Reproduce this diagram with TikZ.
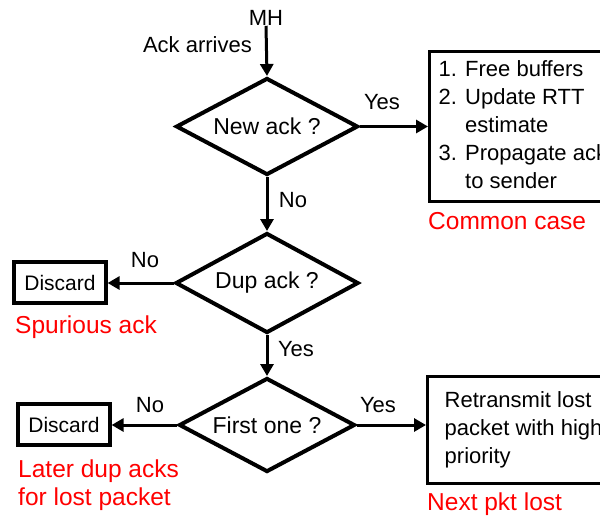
\documentclass[tikz,border=0pt]{standalone}
\usepackage{fontspec}
\setmainfont{Liberation Sans}
\usetikzlibrary{shapes.geometric,arrows.meta}
\begin{document}
\begin{tikzpicture}[x=1pt,y=-1pt,
  dia/.style={diamond,draw,line width=4pt,inner sep=0pt,aspect=1.9,font=\fontsize{23}{28}\selectfont},
  box/.style={draw,line width=3.4pt,inner ysep=0pt,font=\fontsize{22}{28}\selectfont},
  disc/.style={draw,line width=3.2pt,inner sep=0pt,minimum width=92,minimum height=41,font=\fontsize{21}{28}\selectfont},
  lbl/.style={inner sep=0pt,font=\fontsize{22}{28}\selectfont},
  redlbl/.style={inner sep=0pt,text=red,align=left,font=\fontsize{24.5}{28}\selectfont},
  arr/.style={line width=3pt,-{Triangle[length=12pt,width=13pt]}}
]
\useasboundingbox (0,0) rectangle (600,515);
\fill[white] (0,0) rectangle (600,515);
\clip (0,0) rectangle (600,515);

\node[lbl] (mh) at (266,18) {MH};
\node[lbl,anchor=east] (ack) at (252,45) {Ack arrives};

\node[dia,minimum width=182,minimum height=97] (d1) at (267,126.5) {New ack ?};
\node[dia,minimum width=183,minimum height=100] (d2) at (267,283) {Dup ack ?};
\node[dia,minimum width=176,minimum height=94] (d3) at (267,425) {First one ?};

\node[box,anchor=north west,minimum height=150,inner xsep=9pt] (b1) at (428,50)
  {\begin{tabular}{@{}l@{ }l@{}}1.&Free buffers\\2.&Update RTT\\&estimate\\3.&Propagate ack\\&to sender\end{tabular}};
\node[box,anchor=north west,minimum height=107,inner xsep=17pt] (b3) at (426,375)
  {\begin{tabular}{@{}l@{}}Retransmit lost\\packet with high\\priority\end{tabular}};

\node[disc] (x1) at (60,282.5) {Discard};
\node[disc] (x2) at (64,424.5) {Discard};

\draw[arr] (mh.south) -- (d1.north);
\draw[arr] (d1.east) -- (d1.east -| b1.west);
\draw[arr] (d1.south) -- (d2.north);
\draw[arr] (d2.west) -- (d2.west -| x1.east);
\draw[arr] (d2.south) -- (d3.north);
\draw[arr] (d3.west) -- (d3.west -| x2.east);
\draw[arr] (d3.east) -- (d3.east -| b3.west);

\node[lbl] (y1) at (382,102) {Yes};
\node[lbl] (n1) at (293,200) {No};
\node[lbl] (n2) at (145,260) {No};
\node[lbl] (y2) at (296,349) {Yes};
\node[lbl] (n3) at (150,405) {No};
\node[lbl] (y3) at (378,405) {Yes};

\node[redlbl,anchor=base west] (cc) at (428,229) {Common case};
\node[redlbl,anchor=base west] (sa) at (15,333) {Spurious ack};
\node[redlbl,anchor=base west] (ld) at (18,505) {Later dup acks\\for lost packet};
\node[redlbl,anchor=base west] (np) at (427,510) {Next pkt lost};
\end{tikzpicture}
\end{document}
